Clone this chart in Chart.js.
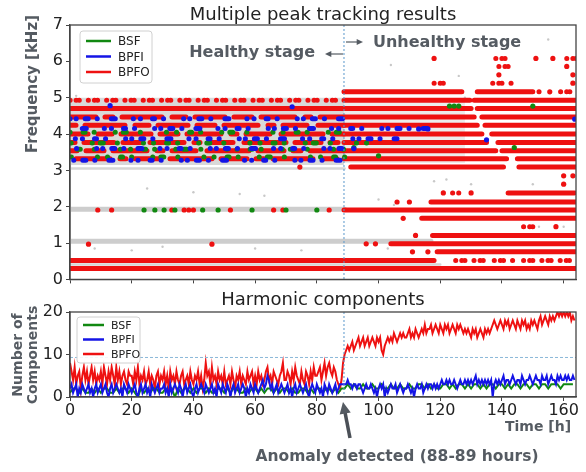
<!DOCTYPE html>
<html lang="en">
<head>
  <meta charset="UTF-8" />
  <title>Multiple peak tracking results</title>
  <script src="https://cdn.jsdelivr.net/npm/chart.js"></script>
  <style>
    body { margin: 0; background: #fff; }
    #top { position: absolute; left: 0; top: 0; width: 586px; height: 292px; }
    #bottom { position: absolute; left: 0; top: 290px; width: 586px; height: 182px; }
  </style>
</head>
<body>
  <div id="top"><canvas id="peakChart"></canvas></div>
  <div id="bottom"><canvas id="harmChart"></canvas></div>

  <script>
    // ---- shared ----
    const seriesNames = ['BSF', 'BPFI', 'BPFO'];
    const seriesColors = ['#118811', '#1414e6', '#ee1111'];
    const anomalyHour = 88.8;
    const timeTicks = [0, 20, 40, 60, 80, 100, 120, 140, 160];
    const freqTicks = [0, 1, 2, 3, 4, 5, 6, 7];
    const countTicks = [0, 10, 20];
    const componentLimit = 9.3;

    // ---- top chart: tracked peaks (frequency in kHz, runs in hours) ----
    const redFreq = [0.30, 0.52, 0.76, 0.98, 1.21, 1.68, 1.91, 2.13, 2.38, 3.09, 3.32, 3.54, 3.77, 4.00, 4.24, 4.47, 4.70, 4.93, 5.16];
    const redRuns = [
      [[0, 164]],
      [[0, 118]],
      [[119, 164]],
      [[104, 164]],
      [[117.5, 164]],
      [[114, 164]],
      [[88.8, 164]],
      [[117, 164]],
      [[142, 163.5]],
      [[91, 140.5], [145.5, 164]],
      [[88.8, 141.5], [145, 164]],
      [[88.8, 138], [140, 164]],
      [[88.8, 135], [138.7, 164]],
      [[88.8, 133.5], [136.7, 164]],
      [[88.8, 132], [134.5, 164]],
      [[88.8, 131], [133.5, 164]],
      [[0, 130], [132, 164]],
      [[88.8, 129.6], [131, 164]],
      [[88.8, 127], [132, 150]]
    ];
    const redHealthyFreq = [4.47, 4.24, 4.00, 3.77, 3.54, 3.32];
    const healthyRun = [[0, 88.8]];

    const redSparseFreq = [0.52, 4.93, 5.16, 5.40, 5.86, 6.08, 2.38, 1.45];
    const redSparseRuns = [
      [[125, 135], [137.5, 145], [147, 164]],
      [[0, 88.8]],
      [[152, 153.5], [159, 164]],
      [[118, 121], [137, 144]],
      [[139, 143]],
      [[138, 143], [161, 164]],
      [[124, 126.5]],
      [[147, 150]]
    ];
    const redDots = [[111, 0.76], [116, 0.76], [96, 0.98], [99, 0.98], [112, 1.21], [157.5, 1.45], [108, 1.68],
      [106, 2.13], [110, 2.13], [121, 2.38], [130, 2.38], [160, 2.62], [160, 2.85], [163, 2.85], [163, 5.40],
      [139, 5.63], [163, 5.63], [161, 5.86], [118, 6.08], [151, 6.08], [156.5, 6.08], [155.5, 5.16],
      [9, 1.91], [13.5, 1.91], [33, 1.91], [37, 1.91], [38.5, 1.91], [40, 1.91], [52, 1.91], [66, 1.91],
      [69, 1.91], [84, 1.91], [6, 0.97], [46, 0.97], [74.5, 3.09]];

    const bpfiFreq = [4.42, 4.15, 3.87, 3.60, 3.28];
    const bpfiRuns = [[[0, 88.8]], [[0, 116]], [[0, 106]], [[0, 88.8]], [[0, 88.8]]];
    const bpfiDots = [[13, 4.78], [72, 4.75], [113, 4.14], [116, 4.14], [135, 3.84], [163.6, 4.41], [92, 3.60]];

    const bsfFreq = [4.05, 3.75, 3.58, 3.37];
    const bsfRuns = [[[0, 88.8]], [[0, 100]], [[0, 88.8]], [[0, 90]]];
    const bsfDots = [[24, 1.91], [27.5, 1.91], [30.5, 1.91], [34, 1.91], [43, 1.91], [48, 1.91], [59, 1.91],
      [70, 1.91], [80, 1.91], [123, 4.77], [124.5, 4.77], [126, 4.77], [150, 4.77], [144, 3.63], [92, 3.63], [100, 3.40]];

    const greyZoneStart = [0, 88.8];
    const greyZoneEnd = [88.8, 128];
    const greyZoneLow = [3.15, 3.2];
    const greyZoneHigh = [5.0, 4.9];
    const greyWideFreq = [1.05, 1.93];
    const greyWideRuns = [[[0, 117]], [[0, 89]]];
    const greyThinFreq = [0.41, 3.05];
    const greyThinRuns = [[[0, 120]], [[0, 89]]];
    const greyDots = [[25, 2.5], [40, 2.4], [55, 2.35], [63, 2.3], [8, 0.85], [20, 0.8], [30, 0.9], [60, 0.85],
      [75, 0.8], [100, 2.2], [105, 2.05], [103, 0.85], [130, 2.62], [150, 2.62], [152, 1.45], [160, 1.45],
      [128, 5.0], [126, 5.6], [104, 5.9], [137, 6.5], [155, 6.6], [58, 6.1], [118, 2.7], [122, 2.75], [2, 5.05]];

    // ---- bottom chart: number of harmonic components ----
    // BPFO and BPFI every half hour, BSF every hour
    const halfStep = 0.5;
    const bsfCount = [
      1,2,2,1,2,1,1,2,1,2, 1,2,2,1,1,2,1,2,2,1, 2,1,0,2,1,2,1,2,2,1, 1,2,1,2,0,2,1,2,2,1,
      2,1,2,2,1,2,1,1,2,2, 1,2,1,2,2,1,1,2,1,2, 2,1,2,1,2,2,1,2,1,2, 2,1,2,1,1,2,2,1,2,1,
      2,2,1,2,2,1,2,1,2,
      2,3,2,3,2,2,3,2,2,3, 2,2,3,2,2,3,2,2,3,2, 2,3,2,2,3,3,2,3,2,3, 2,2,3,3,2,3,2,3,3,2,
      3,2,3,3,2,3,2,3,3,2, 3,3,2,3,2,3,3,2,3,3, 2,3,3,2,3,3,2,3,3,3, 2,3,3,3,3
    ];
    const bpfiCount = [
      2,3,1,2,3,0,2,1,3,2,1,2,3,1,2,0,2,3,1,2,
      3,1,2,3,1,0,2,3,1,2,3,2,1,2,0,3,2,1,3,2,
      1,2,3,1,0,2,3,1,2,3,1,2,0,3,2,1,2,3,1,2,
      2,3,1,2,0,3,1,2,3,2,1,3,2,0,2,3,1,2,3,1,
      0,2,3,1,2,3,2,1,3,2,1,2,3,1,2,0,3,2,1,3,
      2,1,3,2,0,2,3,1,2,3,1,2,3,2,0,2,1,3,2,1,
      3,2,1,2,3,4,2,3,5,4,2,3,1,2,3,1,2,3,2,1,
      2,3,1,2,0,2,3,1,2,3,2,1,2,3,1,0,2,3,2,1,
      3,2,1,2,0,3,2,1,3,2,1,2,3,1,2,3,3,3,
      3,3,4,3,3,2,3,3,2,3,3,2,1,2,3,2,2,3,2,1,
      2,0,2,3,2,3,0,2,1,2,3,2,2,3,1,2,3,2,1,2,
      2,3,2,1,2,0,2,3,2,2,3,1,2,3,2,3,3,2,3,2,
      3,2,3,4,3,3,4,3,4,3,3,4,3,2,3,4,3,3,4,3,
      4,3,4,3,4,5,3,4,3,4,3,4,3,4,3,4,0,3,4,3,
      4,3,4,5,3,4,4,3,4,5,4,3,4,4,3,5,4,3,4,4,
      5,4,3,4,5,4,4,3,5,4,4,5,3,4,5,4,4,3,5,4,
      5,4,4,5,4,5,4,4,5,4
    ];
    const bpfoCount = [
      8,6,4,7,3,5,6,2,5,7,4,6,3,5,7,4,6,3,5,4,
      6,3,7,5,3,6,4,7,5,3,7,4,6,3,5,6,4,3,6,5,
      5,3,6,4,7,3,5,4,6,3,4,6,3,5,4,2,5,6,3,5,
      4,6,3,5,2,6,4,5,3,6,4,3,5,6,3,4,5,3,6,4,
      3,5,4,6,3,5,2,4,8,5,6,3,7,4,5,3,6,4,5,3,
      6,3,4,5,3,6,4,2,5,4,6,3,5,4,3,6,4,5,6,3,
      5,3,6,4,5,3,4,6,7,4,5,3,6,5,4,3,5,6,8,4,
      4,6,5,3,6,4,7,5,4,3,6,4,3,6,5,3,6,4,7,5,
      5,6,7,4,6,8,5,7,8,6,5,7,6,4,3,2,4,8,
      10,11,12,11,12,13,11,12,13,14,12,13,14,12,13,14,12,13,14,13,
      12,14,13,14,11,10,12,13,14,13,14,13,15,14,13,14,15,14,15,14,
      14,15,16,14,15,14,16,15,14,15,16,15,17,15,16,16,17,15,16,17,
      16,15,17,16,15,17,16,17,15,16,17,16,15,17,16,17,16,15,16,15,
      16,15,14,16,15,16,14,15,16,15,14,16,15,16,15,16,17,18,17,16,
      17,18,17,16,18,17,18,16,17,18,17,16,18,17,16,18,17,18,16,17,
      16,18,17,18,17,16,18,19,17,18,19,18,17,19,18,19,18,19,20,19,
      20,19,20,19,20,19,20,18,19,18
    ];

    // ---- helpers ----
    function runsToPoints(freqs, runs) {
      const pts = [];
      freqs.forEach((f, i) => runs[i].forEach(([a, b]) => {
        pts.push({ x: a, y: f }, { x: b, y: f }, { x: b, y: null });
      }));
      return pts;
    }
    const toXY = arr => arr.map(([x, y]) => ({ x, y }));
    const stepped = (arr, step) => arr.map((v, i) => ({ x: i * step, y: v }));

    function band(label, data, color, width, dash, order, offset) {
      return {
        label, data, type: 'line', borderColor: color, backgroundColor: color,
        borderWidth: width, borderDash: dash || [], borderDashOffset: offset || 0, borderCapStyle: 'round',
        pointRadius: 0, spanGaps: false, fill: false, order
      };
    }
    // one dataset per row so the dotted texture does not line up between rows
    function rowBands(label, freqs, runs, color, dash, order, shift) {
      return freqs.map((f, i) => band(label, runsToPoints([f], [runs[i]]), color, 5, dash, order, i * shift));
    }
    function dots(label, data, color, r, order) {
      return { label, data, type: 'scatter', showLine: false, pointRadius: r, pointHoverRadius: r,
        pointBorderWidth: 0, backgroundColor: color, borderColor: color, order };
    }

    function drawLegend(ctx, box, font, lineLen) {
      ctx.save();
      ctx.fillStyle = 'rgba(255,255,255,0.9)';
      ctx.strokeStyle = '#d0d0d0';
      ctx.lineWidth = 1;
      ctx.beginPath();
      ctx.roundRect(box.x, box.y, box.w, box.h, 3);
      ctx.fill(); ctx.stroke();
      ctx.font = font;
      ctx.textBaseline = 'middle';
      ctx.textAlign = 'left';
      seriesNames.forEach((n, i) => {
        const yy = box.y + box.first + i * box.gap;
        ctx.strokeStyle = seriesColors[i];
        ctx.lineWidth = 2.5;
        ctx.beginPath();
        ctx.moveTo(box.x + 6, yy); ctx.lineTo(box.x + 6 + lineLen, yy);
        ctx.stroke();
        ctx.fillStyle = '#222';
        ctx.fillText(n, box.x + 13 + lineLen, yy + 1);
      });
      ctx.restore();
    }

    function vGuide(ctx, chart) {
      const a = chart.chartArea;
      const ax = chart.scales.x.getPixelForValue(anomalyHour);
      ctx.strokeStyle = '#5a98cc';
      ctx.lineWidth = 1;
      ctx.setLineDash([2, 2]);
      ctx.beginPath(); ctx.moveTo(ax, a.top); ctx.lineTo(ax, a.bottom); ctx.stroke();
      ctx.setLineDash([]);
      return ax;
    }

    function frame(ctx, a) {
      ctx.strokeStyle = '#444';
      ctx.lineWidth = 1.3;
      ctx.strokeRect(a.left, a.top, a.right - a.left, a.bottom - a.top);
    }

    function arrow(ctx, x1, y1, x2, y2, head, width) {
      const ang = Math.atan2(y2 - y1, x2 - x1);
      ctx.beginPath();
      ctx.moveTo(x1, y1);
      ctx.lineTo(x2 - Math.cos(ang) * head * 0.8, y2 - Math.sin(ang) * head * 0.8);
      ctx.lineWidth = width;
      ctx.stroke();
      ctx.beginPath();
      ctx.moveTo(x2, y2);
      ctx.lineTo(x2 - head * Math.cos(ang - 0.45), y2 - head * Math.sin(ang - 0.45));
      ctx.lineTo(x2 - head * Math.cos(ang + 0.45), y2 - head * Math.sin(ang + 0.45));
      ctx.closePath();
      ctx.fill();
    }

    const tickFont = { family: 'DejaVu Sans', size: 16 };
    function axes(yMin, yMax, yTicks, xLabels) {
      return {
        x: {
          type: 'linear', min: 0, max: 164,
          afterBuildTicks: s => { s.ticks = timeTicks.map(v => ({ value: v })); },
          grid: { drawOnChartArea: false, drawTicks: true, tickLength: 4, color: '#444' },
          border: { display: true, color: '#444', width: 1.3 },
          ticks: { display: xLabels, color: '#222', font: tickFont, padding: 0, maxRotation: 0 }
        },
        y: {
          min: yMin, max: yMax,
          afterBuildTicks: s => { s.ticks = yTicks.map(v => ({ value: v })); },
          afterFit: s => { s.width = 70; },
          grid: { drawOnChartArea: false, drawTicks: true, tickLength: 4, color: '#444' },
          border: { display: true, color: '#444', width: 1.3 },
          ticks: { color: '#222', font: tickFont, padding: 3 }
        }
      };
    }

    // ---- top chart ----
    // dash patterns only give the dotted look of the tracked peaks
    const redDash = [26, 9, 8, 9, 40, 10, 14, 9, 30, 9, 18, 9, 34, 10, 6, 9, 24, 11, 42, 9];
    const blueDash = [0.1, 6, 0.1, 9, 3, 9, 0.1, 14, 4, 18, 0.1, 7, 0.1, 12, 2, 9, 0.1, 20];
    const greenDash = [0.1, 13, 2, 9, 0.1, 21, 0.1, 8, 3, 14, 0.1, 26, 0.1, 10];

    const greyZoneSets = [];
    greyZoneStart.forEach((s, i) => {
      const c = i === 0 ? '#d9d9d9' : '#ececec';
      greyZoneSets.push({ type: 'line', data: [{ x: s, y: greyZoneLow[i] }, { x: greyZoneEnd[i], y: greyZoneLow[i] }],
        borderWidth: 0, pointRadius: 0, fill: '+1', backgroundColor: c, order: 20 });
      greyZoneSets.push({ type: 'line', data: [{ x: s, y: greyZoneHigh[i] }, { x: greyZoneEnd[i], y: greyZoneHigh[i] }],
        borderWidth: 0, pointRadius: 0, fill: false, order: 20 });
    });

    const topPlugin = {
      id: 'topDecor',
      afterDatasetsDraw(chart) {
        const { ctx, chartArea: a } = chart;
        ctx.save();
        const ax = vGuide(ctx, chart);
        frame(ctx, a);
        ctx.fillStyle = '#222';
        ctx.font = '18px "DejaVu Sans"';
        ctx.textAlign = 'center';
        ctx.textBaseline = 'middle';
        ctx.fillText('Multiple peak tracking results', (a.left + a.right) / 2, 15);

        ctx.fillStyle = '#555b62';
        ctx.strokeStyle = '#555b62';
        ctx.font = 'bold 16px "DejaVu Sans"';
        ctx.textAlign = 'right';
        ctx.fillText('Healthy stage', ax - 29, 53);
        arrow(ctx, ax - 1, 54, ax - 19, 54, 7, 1.2);
        ctx.textAlign = 'left';
        ctx.fillText('Unhealthy stage', ax + 29, 43);
        arrow(ctx, ax + 2, 42, ax + 19, 42, 7, 1.2);

        ctx.save();
        ctx.translate(33, 84);
        ctx.rotate(-Math.PI / 2);
        ctx.textAlign = 'center';
        ctx.font = 'bold 15px "DejaVu Sans"';
        ctx.fillText('Frequency [kHz]', 0, 0);
        ctx.restore();

        drawLegend(ctx, { x: 80, y: 31, w: 72, h: 52, first: 10, gap: 15.5 }, '12px "DejaVu Sans"', 25);
        ctx.restore();
      }
    };

    new Chart(document.getElementById('peakChart'), {
      type: 'line',
      data: {
        datasets: [
          ...greyZoneSets,
          band('grey', runsToPoints(greyWideFreq, greyWideRuns), '#cdcdcd', 5, [], 19),
          band('grey', runsToPoints(greyThinFreq, greyThinRuns), '#d6d6d6', 2.5, [], 19),
          dots('grey', toXY(greyDots), '#c8c8c8', 1.2, 18),
          band('BPFO', runsToPoints(redFreq, redRuns), seriesColors[2], 5, [], 6),
          ...rowBands('BPFO', redHealthyFreq, redHealthyFreq.map(() => healthyRun), seriesColors[2], redDash, 6, 37),
          band('BPFO', runsToPoints(redSparseFreq, redSparseRuns), seriesColors[2], 5, [0.1, 6, 0.1, 3, 0.1, 9], 6),
          dots('BPFO', toXY(redDots), seriesColors[2], 2.6, 5),
          ...rowBands('BSF', bsfFreq, bsfRuns, seriesColors[0], greenDash, 3, 23),
          dots('BSF', toXY(bsfDots), seriesColors[0], 2.6, 3),
          ...rowBands('BPFI', bpfiFreq, bpfiRuns, seriesColors[1], blueDash, 2, 29),
          dots('BPFI', toXY(bpfiDots), seriesColors[1], 2.6, 2)
        ]
      },
      options: {
        responsive: true, maintainAspectRatio: false, animation: false,
        layout: { padding: { top: 25, right: 10, left: 0, bottom: 0 } },
        plugins: { legend: { display: false }, tooltip: { enabled: false } },
        scales: (() => {
          const s = axes(0, 7, freqTicks, false);
          s.x.afterFit = sc => { sc.height = 12; };
          return s;
        })()
      },
      plugins: [topPlugin]
    });

    // ---- bottom chart ----
    const bottomPlugin = {
      id: 'bottomDecor',
      afterDatasetsDraw(chart) {
        const { ctx, chartArea: a, scales: { y } } = chart;
        ctx.save();
        const ax = vGuide(ctx, chart);
        const ly = y.getPixelForValue(componentLimit);
        ctx.strokeStyle = '#8ab8d8';
        ctx.lineWidth = 1;
        ctx.setLineDash([3, 2]);
        ctx.beginPath(); ctx.moveTo(a.left, ly); ctx.lineTo(a.right, ly); ctx.stroke();
        ctx.setLineDash([]);
        frame(ctx, a);

        ctx.fillStyle = '#222';
        ctx.font = '18px "DejaVu Sans"';
        ctx.textAlign = 'center';
        ctx.textBaseline = 'middle';
        ctx.fillText('Harmonic components', (a.left + a.right) / 2, 10);

        ctx.fillStyle = '#555b62';
        ctx.strokeStyle = '#4b5057';
        ctx.font = 'bold 14px "DejaVu Sans"';
        ctx.fillText('Time [h]', 538, 137);
        ctx.font = 'bold 15.5px "DejaVu Sans"';
        ctx.fillText('Anomaly detected (88-89 hours)', 397, 167);
        arrow(ctx, ax + 6, 148, ax - 1, 112, 13, 3.5);

        ctx.save();
        ctx.translate(18, 65);
        ctx.rotate(-Math.PI / 2);
        ctx.font = 'bold 14px "DejaVu Sans"';
        ctx.fillText('Number of', 0, 0);
        ctx.fillText('Components', 0, 15);
        ctx.restore();

        drawLegend(ctx, { x: 77, y: 27, w: 63, h: 46, first: 8, gap: 14.5 }, '11px "DejaVu Sans"', 21);
        ctx.restore();
      }
    };

    new Chart(document.getElementById('harmChart'), {
      type: 'line',
      data: {
        datasets: [
          { label: 'BPFI', data: stepped(bpfiCount, halfStep), borderColor: seriesColors[1], borderWidth: 2, pointRadius: 0, order: 1 },
          { label: 'BSF', data: stepped(bsfCount, 1), borderColor: seriesColors[0], borderWidth: 2, pointRadius: 0, order: 2 },
          { label: 'BPFO', data: stepped(bpfoCount, halfStep), borderColor: seriesColors[2], borderWidth: 2, pointRadius: 0, order: 3 }
        ]
      },
      options: {
        responsive: true, maintainAspectRatio: false, animation: false,
        layout: { padding: { top: 22, right: 10, left: 0, bottom: 0 } },
        plugins: { legend: { display: false }, tooltip: { enabled: false } },
        scales: (() => {
          const s = axes(0, 20, countTicks, true);
          s.x.afterFit = sc => { sc.height = 75; };
          return s;
        })()
      },
      plugins: [bottomPlugin]
    });
  </script>
</body>
</html>
